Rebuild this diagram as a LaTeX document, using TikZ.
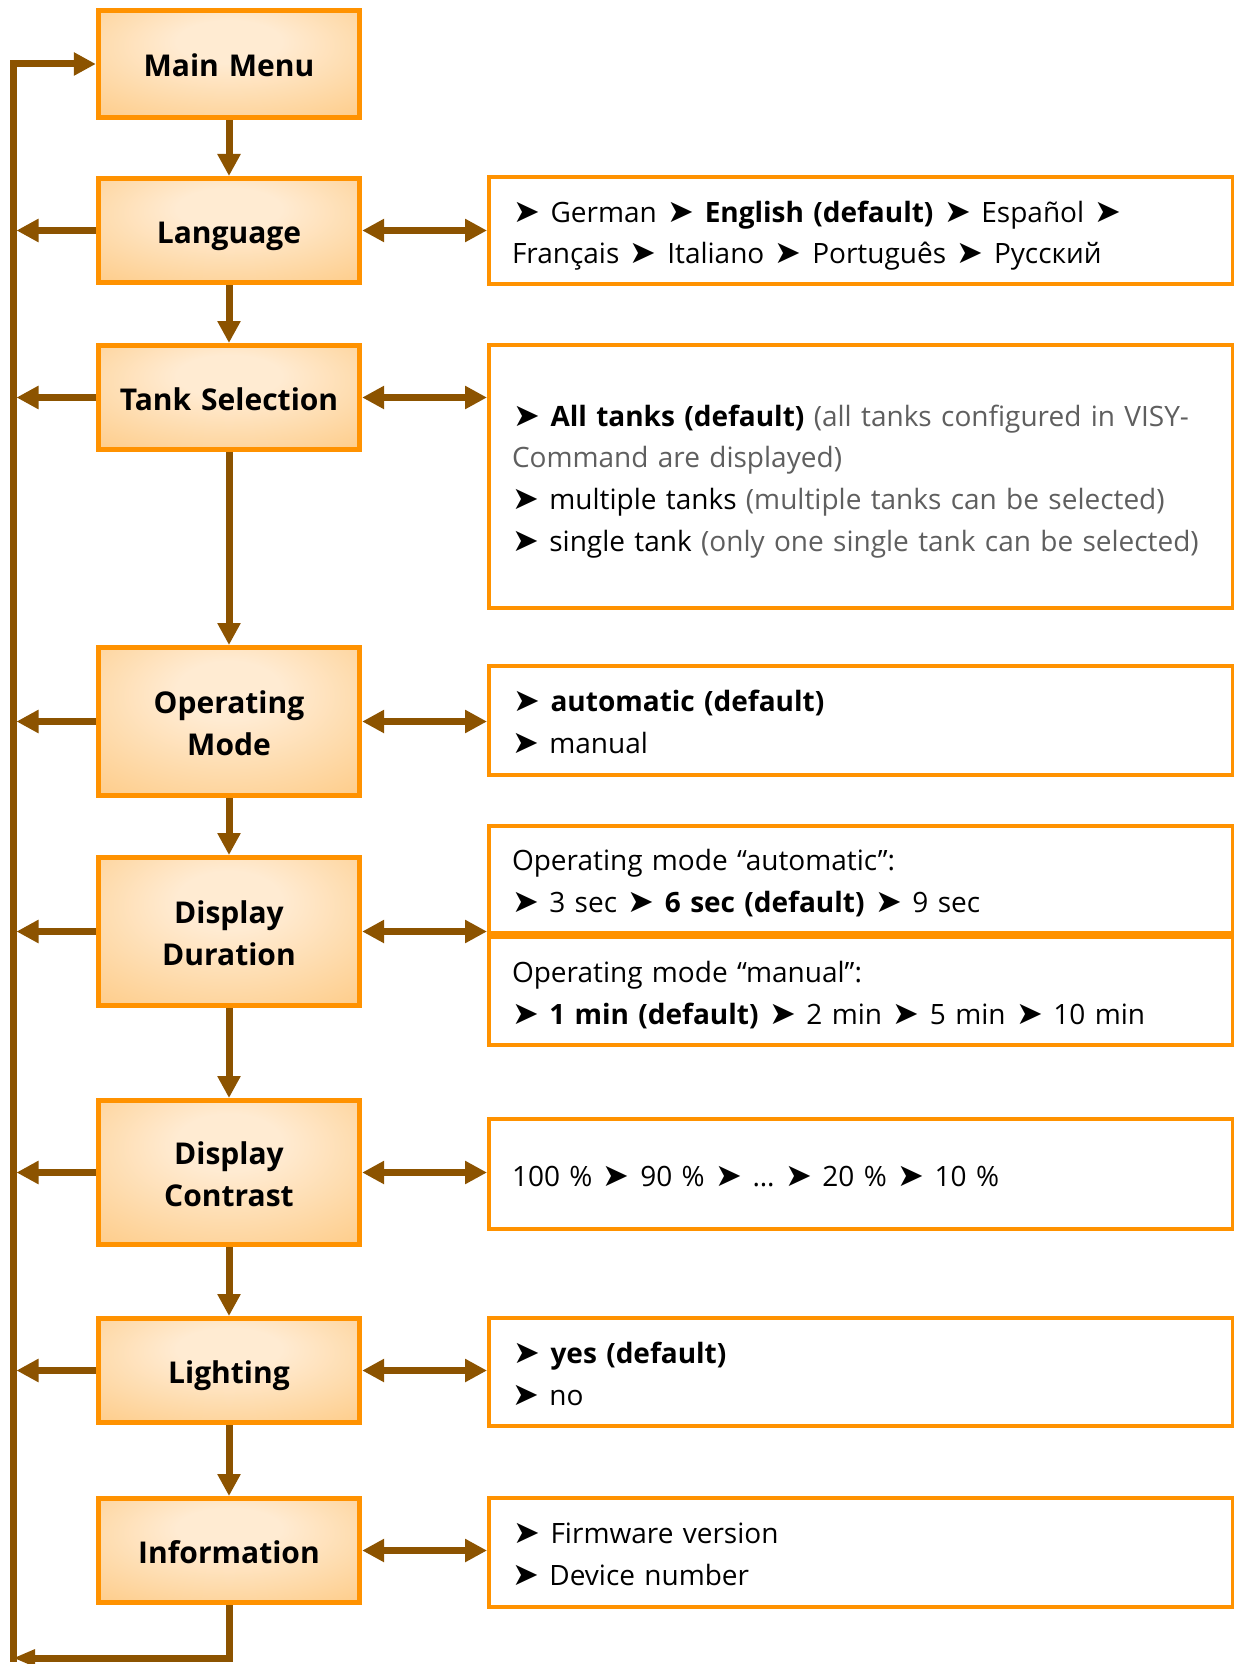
\documentclass[tikz,border=0pt]{standalone}
\usepackage{fontspec}
\setmainfont{Open Sans}
\newfontfamily\symfont{DejaVu Sans}
\usetikzlibrary{arrows.meta, positioning}

\definecolor{boxline}{HTML}{FF9200}
\definecolor{glowin}{HTML}{FFEBD2}
\definecolor{glowout}{HTML}{FDC271}
\definecolor{linkbrown}{HTML}{8C5300}
\definecolor{notegray}{HTML}{5F5F5F}
\pgfdeclareradialshading{boxglow}{\pgfpoint{0bp}{12bp}}{color(0bp)=(glowin); color(10bp)=(glowin); color(50bp)=(glowout); color(75bp)=(glowout)}
\newcommand{\optarrow}{\kern0.6pt{\symfont\fontsize{16}{20.5}\selectfont ➤}\kern0.6pt}

\begin{document}
\begin{tikzpicture}[x=0.5pt, y=-0.5pt,
  menubox/.style={draw=boxline, line width=2.5pt, shade, shading=boxglow, minimum width=130.5pt, minimum height=52pt, text width=124pt, align=center, font=\fontsize{15}{21}\selectfont\bfseries, execute at begin node={\rule{0pt}{19.2pt}}, execute at end node={\strut}},
  optbox/.style={draw=boxline, line width=2pt, fill=white, anchor=west, inner xsep=11.5pt, text width=349pt, align=left, font=\fontsize{14}{20.5}\selectfont, execute at begin node={\rule{0pt}{18.35pt}}, execute at end node={\strut}},
  link/.style={draw=linkbrown, line width=3.5pt, -{Triangle[width=11pt,length=11pt]}},
  twoway/.style={link, {Triangle[width=11pt,length=11pt]}-{Triangle[width=11pt,length=11pt]}}]
\useasboundingbox (0,0) rectangle (1234,1664);
% menu column
\node (mainmenu) [menubox, minimum height=53.5pt] at (229,64) {Main Menu};
\node (language) [menubox] at (229,230.5) {Language};
\node (tanksel) [menubox] at (229,397.5) {Tank Selection};
\node (opmode) [menubox, minimum height=74pt] at (229,721.5) {Operating\\Mode};
\node (dispdur) [menubox, minimum height=74pt] at (229,931.5) {Display\\Duration};
\node (contrast) [menubox, minimum height=72pt] at (229,1172.5) {Display\\Contrast};
\node (lighting) [menubox] at (229,1370.5) {Lighting};
\node (info) [menubox] at (229,1550.5) {Information};
% option boxes
\node (langopt) [optbox, minimum height=53.5pt] at (487,230.5) {\optarrow{} German \optarrow{} \textbf{English (default)} \optarrow{} Español \optarrow{}\\ Français \optarrow{} Italiano \optarrow{} Português \optarrow{} Русский};
\node (tankopt) [optbox, minimum height=131.5pt] at (487,476.5) {\optarrow{} \textbf{All tanks (default)} {\color{notegray}(all tanks configured in VISY-\\Command are displayed)}\\ \optarrow{} multiple tanks {\color{notegray}(multiple tanks can be selected)}\\ \optarrow{} single tank {\color{notegray}(only one single tank can be selected)}};
\node (modeopt) [optbox, minimum height=54.5pt] at (487,720.5) {\optarrow{} \textbf{automatic (default)}\\ \optarrow{} manual};
\node (durauto) [optbox, minimum height=53.5pt] at (487,879.5) {Operating mode “automatic”:\\ \optarrow{} 3 sec \optarrow{} \textbf{6 sec (default)} \optarrow{} 9 sec};
\node (durman) [optbox, minimum height=54pt] at (487,991) {Operating mode “manual”:\\ \optarrow{} \textbf{1 min (default)} \optarrow{} 2 min \optarrow{} 5 min \optarrow{} 10 min};
\node (contopt) [optbox, minimum height=55pt] at (487,1174) {100 \% \optarrow{} 90 \% \optarrow{} … \optarrow{} 20 \% \optarrow{} 10 \%};
\node (lightopt) [optbox, minimum height=54pt] at (487,1372) {\optarrow{} \textbf{yes (default)}\\ \optarrow{} no};
\node (infoopt) [optbox, minimum height=54.5pt] at (487,1552.5) {\optarrow{} Firmware version\\ \optarrow{} Device number};
% connectors
\coordinate (railfoot) at (13,1658);
\foreach \a/\b in {mainmenu/language, language/tanksel, tanksel/opmode, opmode/dispdur, dispdur/contrast, contrast/lighting, lighting/info}
  \draw [link] (\a) -- (\b);
\foreach \n in {language, tanksel, opmode, dispdur, contrast, lighting}
  \draw [link, shorten >=1.75pt] (\n.west) -- (\n.west -| railfoot);
\foreach \n/\o in {language/langopt, tanksel/tankopt, opmode/modeopt, dispdur/durauto, contrast/contopt, lighting/lightopt, info/infoopt}
  \draw [twoway] (\n.east) -- (\n.east -| \o.west);
\draw [link, line cap=rect] (railfoot) |- (mainmenu.west);
\draw [link, line join=miter, -{Triangle[width=8pt,length=11pt]}] (info.south) |- (railfoot);
\end{tikzpicture}
\end{document}
